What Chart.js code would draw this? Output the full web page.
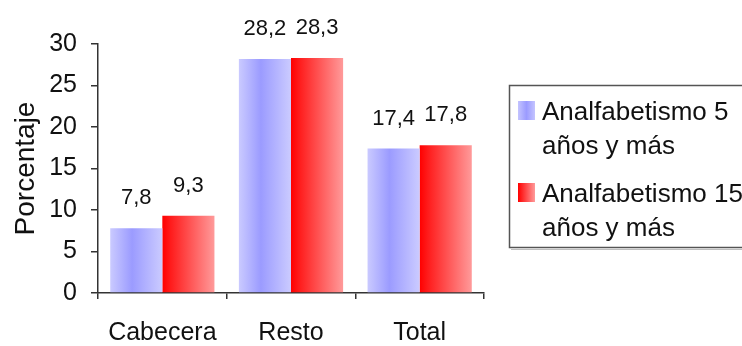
<!DOCTYPE html>
<html>
<head>
<meta charset="utf-8">
<script src="https://cdn.jsdelivr.net/npm/chart.js@4/dist/chart.umd.min.js"></script>
<style>
  html, body { margin: 0; padding: 0; background: #fff; }
  #wrap { width: 742px; height: 346px; position: relative; }
</style>
</head>
<body>
<div id="wrap"><canvas id="c" width="742" height="346"></canvas></div>
<script>
// Illiteracy rates by area
const categories = ['Cabecera', 'Resto', 'Total'];
const seriesNames = [['Analfabetismo 5', 'años y más'], ['Analfabetismo 15', 'años y más']];
const analf5 = [7.8, 28.2, 17.4];
const analf15 = [9.3, 28.3, 17.8];
const yTicks = [0, 5, 10, 15, 20, 25, 30];

const FONT = '"Liberation Sans", Arial, sans-serif';

function fmt(v) { return v.toFixed(1).replace('.', ','); }

function barGradient(ctx, di, x0, x1) {
  const g = ctx.createLinearGradient(x0, 0, x1, 0);
  if (di === 0) {
    g.addColorStop(0, '#cacaff');
    g.addColorStop(0.42, '#9b9bff');
    g.addColorStop(1, '#cbcbff');
  } else {
    g.addColorStop(0, '#ff0000');
    g.addColorStop(0.15, '#ff1a1a');
    g.addColorStop(1, '#ff9a9a');
  }
  return g;
}

// Horizontal gradient for each bar, built from its drawn position
const gradientBars = {
  id: 'gradientBars',
  beforeDatasetsDraw(chart) {
    const ctx = chart.ctx;
    chart.data.datasets.forEach((ds, di) => {
      chart.getDatasetMeta(di).data.forEach(el => {
        el.options.backgroundColor = barGradient(ctx, di, el.x - el.width / 2, el.x + el.width / 2);
      });
    });
  }
};

// Value labels above each bar
const valueLabels = {
  id: 'valueLabels',
  afterDatasetsDraw(chart) {
    const ctx = chart.ctx;
    ctx.save();
    ctx.font = '22px ' + FONT;
    ctx.fillStyle = '#111';
    ctx.textAlign = 'center';
    ctx.textBaseline = 'alphabetic';
    chart.data.datasets.forEach((ds, di) => {
      chart.getDatasetMeta(di).data.forEach((el, i) => {
        ctx.fillText(fmt(ds.data[i]), el.x, el.y - 24);
      });
    });
    ctx.restore();
  }
};

// Boxed legend on the right with two-line entries
const boxLegend = {
  id: 'boxLegend',
  afterDraw(chart) {
    const ctx = chart.ctx;
    ctx.save();
    ctx.strokeStyle = '#555';
    ctx.lineWidth = 1.5;
    ctx.strokeRect(509.5, 85.5, 300, 162);
    ctx.strokeStyle = 'rgba(0,0,0,0.25)';
    ctx.lineWidth = 1;
    ctx.beginPath();
    ctx.moveTo(511, 249.5); ctx.lineTo(742, 249.5);
    ctx.stroke();
    ctx.font = '26px ' + FONT;
    ctx.textAlign = 'left';
    ctx.textBaseline = 'alphabetic';
    const rows = [120, 202];
    chart.data.datasets.forEach((ds, di) => {
      const y = rows[di];
      const sx = 518, sy = y - 19, sw = 17, sh = 19;
      const g = ctx.createLinearGradient(sx, 0, sx + sw, 0);
      if (di === 0) {
        g.addColorStop(0, '#c4c4ff'); g.addColorStop(0.5, '#9b9bff'); g.addColorStop(1, '#c4c4ff');
      } else {
        g.addColorStop(0, '#ff0000'); g.addColorStop(1, '#ff9a9a');
      }
      ctx.fillStyle = g;
      ctx.fillRect(sx, sy, sw, sh);
      ctx.fillStyle = '#111';
      ctx.fillText(seriesNames[di][0], 542, y);
      ctx.fillText(seriesNames[di][1], 542, y + 34);
    });
    ctx.restore();
  }
};

new Chart(document.getElementById('c'), {
  type: 'bar',
  data: {
    labels: categories,
    datasets: [
      { label: seriesNames[0].join(' '), data: analf5, backgroundColor: () => '#9b9bff' },
      { label: seriesNames[1].join(' '), data: analf15, backgroundColor: () => '#ff0000' }
    ]
  },
  options: {
    responsive: false,
    animation: false,
    events: [],
    layout: { padding: { top: 44, right: 258, left: 0, bottom: 0 } },
    datasets: { bar: { categoryPercentage: 0.81, barPercentage: 1.0 } },
    plugins: { legend: { display: false }, tooltip: { enabled: false } },
    scales: {
      x: {
        grid: { display: true, drawOnChartArea: false, offset: true, tickLength: 6, color: '#333', lineWidth: 1.5 },
        border: { color: '#333', width: 1.5 },
        ticks: { color: '#111', font: { family: FONT, size: 25 }, padding: 19 },
        afterFit(scale) { scale.height = 346 - 293; }
      },
      y: {
        min: 0, max: 30,
        afterBuildTicks(scale) { scale.ticks = yTicks.map(v => ({ value: v })); },
        grid: { display: true, drawOnChartArea: false, tickLength: 7, color: '#333', lineWidth: 1.5 },
        border: { color: '#333', width: 1.5 },
        ticks: { color: '#111', font: { family: FONT, size: 25 }, padding: 14 },
        title: { display: true, text: 'Porcentaje', color: '#111', font: { family: FONT, size: 28 }, padding: { top: 9, bottom: 0 } },
        afterFit(scale) { scale.width = 98; }
      }
    }
  },
  plugins: [gradientBars, valueLabels, boxLegend]
});
</script>
</body>
</html>
